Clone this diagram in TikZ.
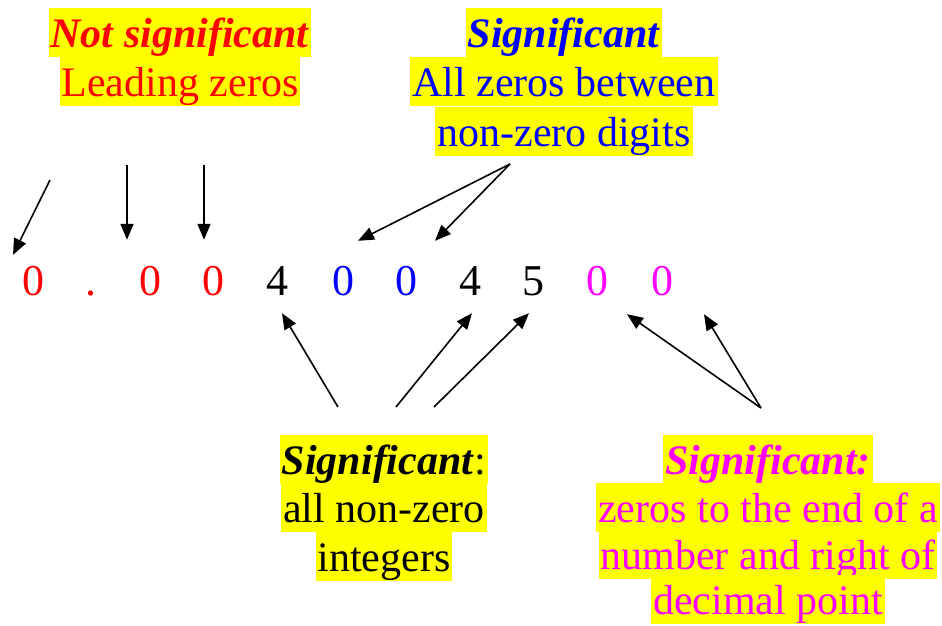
\documentclass[tikz,border=0pt]{standalone}
\usepackage{fontspec}
\setmainfont{Liberation Serif}
\usepackage{xcolor}
\usepackage{tikz}
\usetikzlibrary{arrows.meta}

\definecolor{fucsia}{RGB}{255,0,255}
\definecolor{giallo}{RGB}{255,255,0}

\tikzset{
  riga/.style={fill=giallo, inner xsep=2pt, inner ysep=1pt, text height=38pt, text depth=9pt, anchor=base, font=\fontsize{42}{48}\selectfont},
  cifra/.style={inner sep=0pt, text height=29pt, text depth=0pt, anchor=base, font=\fontsize{44}{48}\selectfont},
  freccia/.style={-{Triangle[length=16pt,width=13pt]}, line width=1.6pt}
}

\begin{document}
\begin{tikzpicture}[x=1pt, y=-1pt]
    \useasboundingbox (0,0) rectangle (942,625);

    % Zeri iniziali
    \node[riga, text=red] (ns1) at (180,47) {\textbf{\textit{Not significant}}};
    \node[riga, text=red] (ns2) at (180,96) {Leading zeros};

    % Zeri in mezzo
    \node[riga, text=blue] (zm1) at (564,47) {\textbf{\textit{Significant}}};
    \node[riga, text=blue] (zm2) at (564,96) {All zeros between};
    \node[riga, text=blue] (zm3) at (564,146) {non-zero digits};

    % Cifre non nulle
    \node[riga] (nz1) at (384,474) {\textbf{\textit{Significant}}:};
    \node[riga] (nz2) at (384,522) {all non-zero};
    \node[riga] (nz3) at (384,571) {integers};

    % Zeri finali
    \node[riga, text=fucsia] (zf1) at (768,474) {\textbf{\textit{Significant:}}};
    \node[riga, text=fucsia] (zf2) at (768,522) {zeros to the end of a};
    \node[riga, text=fucsia] (zf3) at (768,569) {number and right of};
    \node[riga, text=fucsia] (zf4) at (768,614) {decimal point};

    % Il numero
    \node[cifra, text=red] (d0) at (33,295) {0};
    \node[cifra, text=red] (d1) at (91,295) {.};
    \node[cifra, text=red] (d2) at (150,295) {0};
    \node[cifra, text=red] (d3) at (213,295) {0};
    \node[cifra] (d4) at (277,295) {4};
    \node[cifra, text=blue] (d5) at (343,295) {0};
    \node[cifra, text=blue] (d6) at (406,295) {0};
    \node[cifra] (d7) at (470,295) {4};
    \node[cifra] (d8) at (533,295) {5};
    \node[cifra, text=fucsia] (d9) at (597,295) {0};
    \node[cifra, text=fucsia] (d10) at (662,295) {0};

    % Punti di partenza
    \coordinate (c1) at (50,180);
    \coordinate (c2) at (127,165);
    \coordinate (c3) at (204,165);
    \coordinate (c4) at (510,164);
    \coordinate (c5) at (338,407);
    \coordinate (c6) at (396,407);
    \coordinate (c7) at (434,407);
    \coordinate (c8) at (761,408);

    % Frecce
    \draw[freccia] (c1) -- ([shift={(-20,-11)}]d0.north);
    \draw[freccia] (c2) -- ([shift={(-23,-26)}]d2.north);
    \draw[freccia] (c3) -- ([shift={(-9,-26)}]d3.north);
    \draw[freccia] (c4) -- ([shift={(15,-25)}]d5.north);
    \draw[freccia] (c4) -- ([shift={(29,-25)}]d6.north);
    \draw[freccia] (c5) -- ([shift={(5,18)}]d4.south);
    \draw[freccia] (c6) -- ([shift={(2,18)}]d7.south);
    \draw[freccia] (c7) -- ([shift={(-4,18)}]d8.south);
    \draw[freccia] (c8) -- ([shift={(30,19)}]d9.south);
    \draw[freccia] (c8) -- ([shift={(42,19)}]d10.south);
\end{tikzpicture}
\end{document}
